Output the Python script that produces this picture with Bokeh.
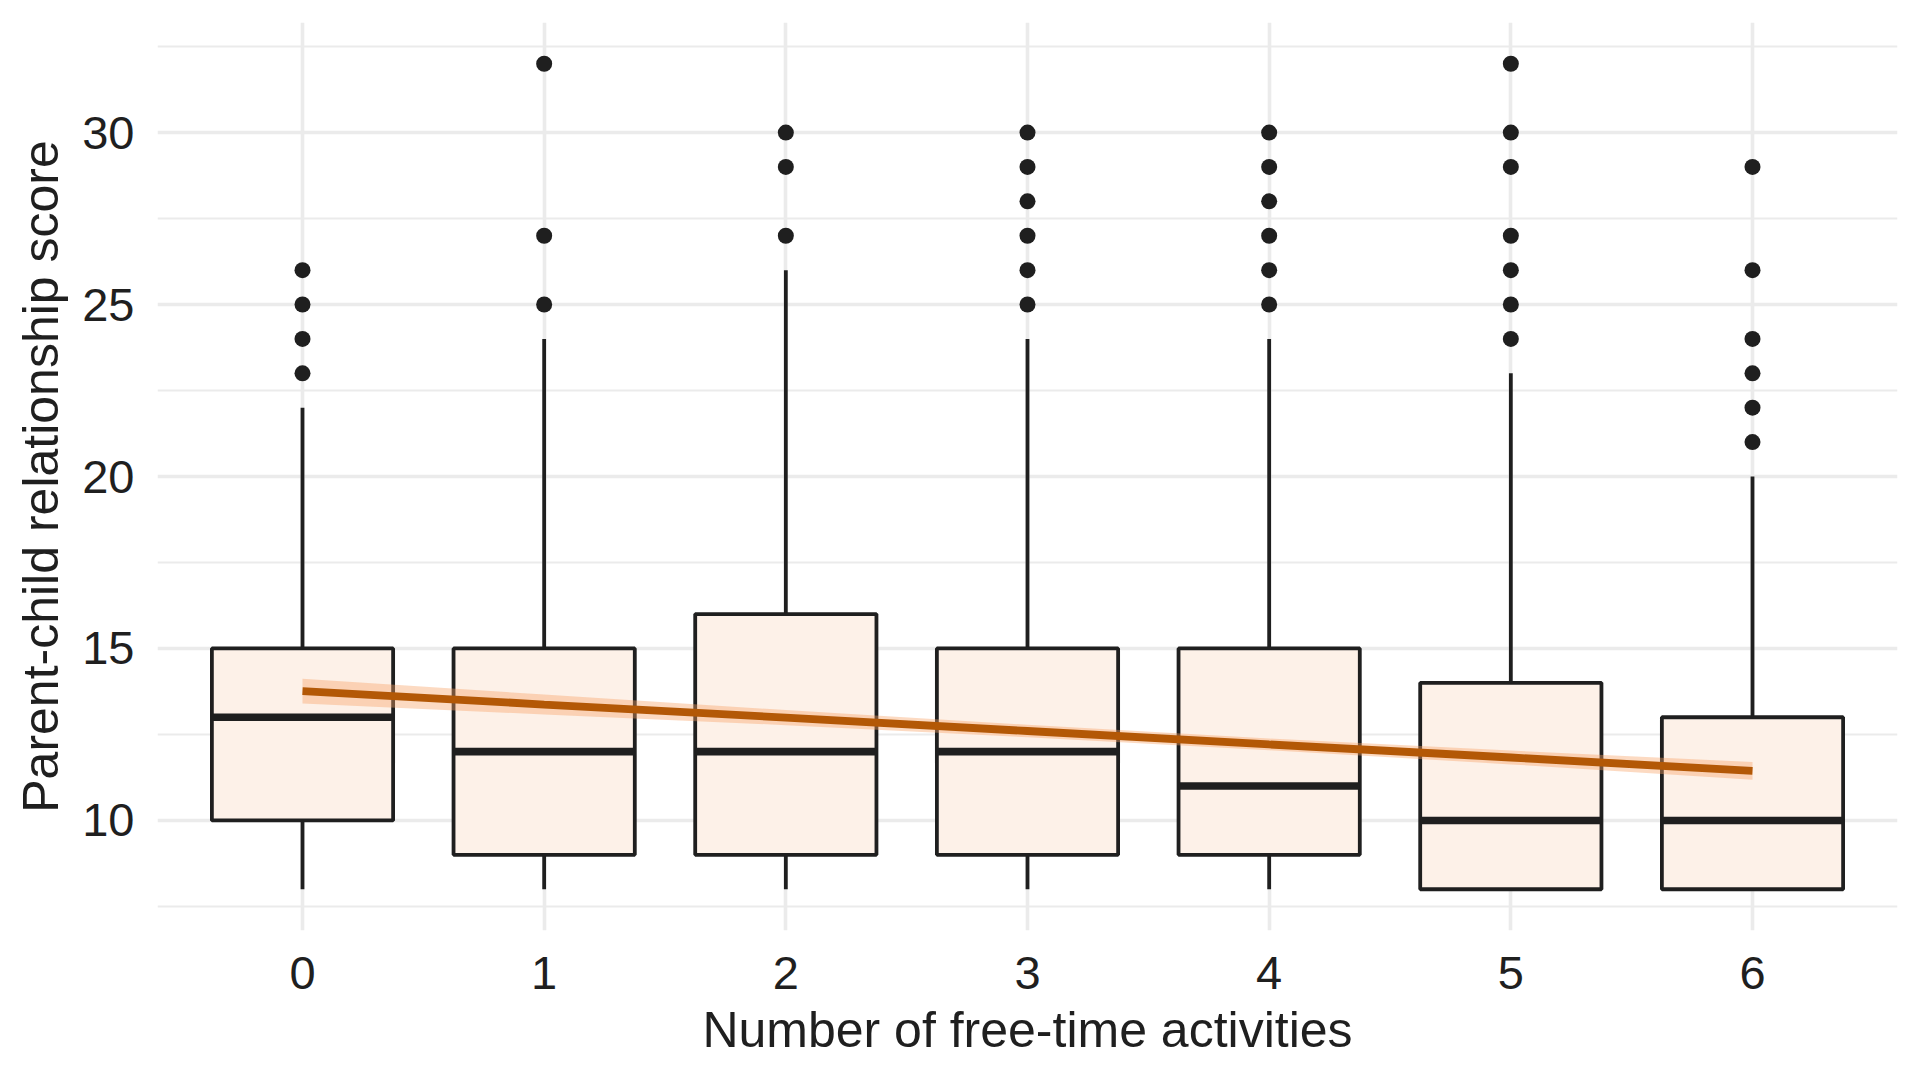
from bokeh.embed import file_html
from bokeh.models import FixedTicker, Range1d
from bokeh.plotting import figure
from bokeh.resources import INLINE

# Box-plot summaries per number of free-time activities
categories = [0, 1, 2, 3, 4, 5, 6]
tick_labels = ["0", "1", "2", "3", "4", "5", "6"]
whisker_low = [8, 8, 8, 8, 8, 8, 8]
q1 = [10, 9, 9, 9, 9, 8, 8]
median = [13, 12, 12, 12, 11, 10, 10]
q3 = [15, 15, 16, 15, 15, 14, 13]
whisker_high = [22, 24, 26, 24, 24, 23, 20]

# Outlying scores per category
outliers = [
    [23, 24, 25, 26],
    [25, 27, 32],
    [27, 29, 30],
    [25, 26, 27, 28, 29, 30],
    [25, 26, 27, 28, 29, 30],
    [24, 25, 26, 27, 29, 30, 32],
    [21, 22, 23, 24, 26, 29],
]

# Linear trend with its confidence band
trend_x = [0, 1, 2, 3, 4, 5, 6]
trend_fit = [13.76, 13.37, 12.99, 12.60, 12.21, 11.83, 11.44]
trend_low = [13.40, 13.08, 12.77, 12.42, 12.04, 11.63, 11.18]
trend_high = [14.12, 13.66, 13.21, 12.78, 12.38, 12.03, 11.70]

y_ticks = [10, 15, 20, 25, 30]
y_minor = [7.5, 12.5, 17.5, 22.5, 27.5, 32.5]

BOX_WIDTH = 0.75
INK = "#1F1F1F"
GRID = "#EBEBEB"
FONT = "Liberation Sans"

p = figure(
    width=1920, height=1080,
    x_range=Range1d(-0.6, 6.6), y_range=Range1d(6.8, 33.2),
    output_backend="svg", toolbar_location=None,
    min_border_left=157, min_border_right=23,
    min_border_top=22, min_border_bottom=150,
)
p.outline_line_color = None
p.background_fill_color = "white"
p.border_fill_color = "white"

# Axes
p.xaxis.ticker = FixedTicker(ticks=categories)
p.xaxis.major_label_overrides = {c: t for c, t in zip(categories, tick_labels)}
p.yaxis.ticker = FixedTicker(ticks=y_ticks, minor_ticks=y_minor)
for ax in (p.xaxis[0], p.yaxis[0]):
    ax.axis_line_color = None
    ax.major_tick_line_color = None
    ax.minor_tick_line_color = None
    ax.major_label_text_font = FONT
    ax.major_label_text_font_size = "47px"
    ax.major_label_text_color = INK
    ax.axis_label_text_font = FONT
    ax.axis_label_text_font_size = "50px"
    ax.axis_label_text_font_style = "normal"
    ax.axis_label_text_color = INK
p.xaxis.axis_label = "Number of free-time activities"
p.yaxis.axis_label = "Parent-child relationship score"
p.xaxis.major_label_standoff = 20
p.xaxis.axis_label_standoff = 10
p.yaxis.major_label_standoff = 17
p.yaxis.axis_label_standoff = 10

# Grid
p.xgrid.grid_line_color = GRID
p.xgrid.grid_line_width = 3.6
p.ygrid.ticker = FixedTicker(ticks=y_ticks, minor_ticks=y_minor)
p.ygrid.grid_line_color = GRID
p.ygrid.grid_line_width = 3.6
p.ygrid.minor_grid_line_color = GRID
p.ygrid.minor_grid_line_width = 1.8

# Whiskers
p.segment(x0=categories, y0=q3, x1=categories, y1=whisker_high,
          line_color=INK, line_width=3.8)
p.segment(x0=categories, y0=whisker_low, x1=categories, y1=q1,
          line_color=INK, line_width=3.8)

# Boxes
p.vbar(x=categories, width=BOX_WIDTH, bottom=q1, top=q3,
       fill_color="#FDF1E8", line_color=INK, line_width=3.8)

# Medians
half = BOX_WIDTH / 2
p.segment(x0=[c - half for c in categories], y0=median,
          x1=[c + half for c in categories], y1=median,
          line_color=INK, line_width=7.6, line_cap="butt")

# Outliers
out_x = [c for c, vals in zip(categories, outliers) for _ in vals]
out_y = [v for vals in outliers for v in vals]
p.scatter(out_x, out_y, size=16, fill_color=INK, line_color=None)

# Trend band and line
p.varea(x=trend_x, y1=trend_low, y2=trend_high,
        fill_color="#F8A267", fill_alpha=0.4)
p.line(trend_x, trend_fit, line_color="#B35806", line_width=7.8)

open("out.html", "w").write(file_html(p, INLINE))
